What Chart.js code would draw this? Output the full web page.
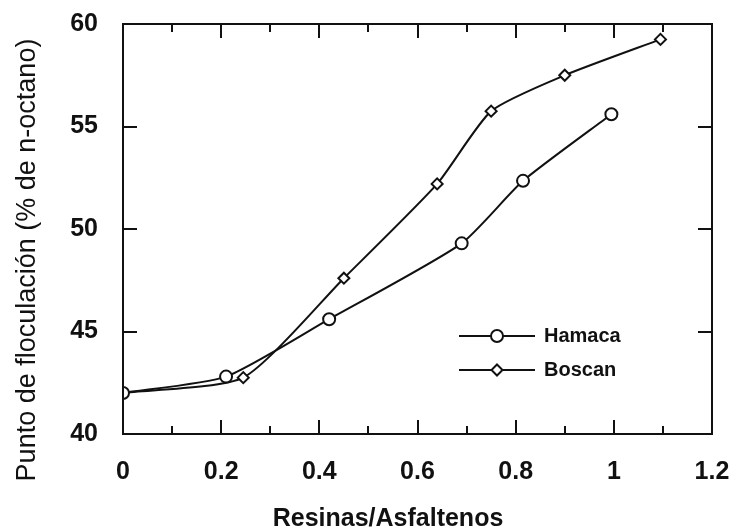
<!DOCTYPE html>
<html>
<head>
<meta charset="utf-8">
<script src="https://cdn.jsdelivr.net/npm/chart.js@4.4.1/dist/chart.umd.min.js"></script>
<style>
  html, body { margin: 0; padding: 0; background: #fff; }
  #wrap { width: 734px; height: 529px; position: relative; }
</style>
</head>
<body>
<div id="wrap"><canvas id="c"></canvas></div>
<script>
// ---- Data ----
const seriesNames = ['Hamaca', 'Boscan'];
const hamacaX = [0, 0.21, 0.42, 0.69, 0.815, 0.995];
const hamacaY = [42.0, 42.8, 45.6, 49.3, 52.35, 55.6];
const boscanX = [0, 0.245, 0.45, 0.64, 0.75, 0.90, 1.095];
const boscanY = [42.0, 42.75, 47.6, 52.2, 55.75, 57.5, 59.25];
const xTicks = [0, 0.2, 0.4, 0.6, 0.8, 1, 1.2];
const yTicks = [40, 45, 50, 55, 60];
const xTitle = 'Resinas/Asfaltenos';
const yTitle = 'Punto de floculación (% de n-octano)';

const INK = '#111111';
const toPts = (xs, ys) => xs.map((x, i) => ({ x: x, y: ys[i] }));

function drawMarker(ctx, style, x, y, r) {
  ctx.save();
  ctx.fillStyle = '#fff';
  ctx.strokeStyle = INK;
  ctx.lineWidth = 2;
  ctx.beginPath();
  if (style === 'circle') {
    ctx.arc(x, y, r, 0, Math.PI * 2);
  } else {
    ctx.moveTo(x, y - r); ctx.lineTo(x + r, y); ctx.lineTo(x, y + r); ctx.lineTo(x - r, y); ctx.closePath();
  }
  ctx.fill(); ctx.stroke();
  ctx.restore();
}

function noPad(s) {
  s.paddingLeft = 0; s.paddingRight = 0; s.paddingTop = 0; s.paddingBottom = 0;
}

const framePlugin = {
  id: 'frameTicks',
  afterDraw(chart) {
    const { ctx, chartArea: a, scales } = chart;
    const xs = scales.x, ys = scales.y;
    ctx.save();
    ctx.strokeStyle = INK;
    ctx.lineWidth = 2;
    ctx.strokeRect(a.left, a.top, a.right - a.left, a.bottom - a.top);
    ctx.beginPath();
    for (let i = 1; i < 12; i++) {
      const v = i / 10;
      const px = Math.round(xs.getPixelForValue(v));
      const len = (i % 2 === 0) ? 14 : 8;
      ctx.moveTo(px, a.bottom); ctx.lineTo(px, a.bottom - len);
      ctx.moveTo(px, a.top); ctx.lineTo(px, a.top + len);
    }
    yTicks.forEach(v => {
      if (v === ys.min || v === ys.max) return;
      const py = Math.round(ys.getPixelForValue(v));
      ctx.moveTo(a.left, py); ctx.lineTo(a.left + 14, py);
      ctx.moveTo(a.right, py); ctx.lineTo(a.right - 14, py);
    });
    ctx.stroke();

    ctx.fillStyle = INK;
    ctx.textAlign = 'center';
    ctx.textBaseline = 'middle';
    ctx.font = 'bold 25px "Liberation Sans", Arial, sans-serif';
    ctx.fillText(xTitle, 388, 519);
    ctx.save();
    ctx.translate(28, 260);
    ctx.rotate(-Math.PI / 2);
    ctx.font = '27px "Liberation Sans", Arial, sans-serif';
    ctx.fillText(yTitle, 0, 0);
    ctx.restore();

    const items = [
      { ds: chart.data.datasets[0], y: 336, style: 'circle', r: 6 },
      { ds: chart.data.datasets[1], y: 370, style: 'diamond', r: 5.5 }
    ];
    items.forEach(it => {
      ctx.beginPath();
      ctx.lineWidth = 1.8;
      ctx.strokeStyle = INK;
      ctx.moveTo(459, it.y); ctx.lineTo(535, it.y);
      ctx.stroke();
      drawMarker(ctx, it.style, 497, it.y, it.r);
      ctx.fillStyle = INK;
      ctx.textAlign = 'left';
      ctx.textBaseline = 'middle';
      ctx.font = 'bold 20px "Liberation Sans", Arial, sans-serif';
      ctx.fillText(it.ds.label, 544, it.y);
    });
    ctx.restore();
  }
};

new Chart(document.getElementById('c'), {
  type: 'line',
  data: {
    datasets: [
      {
        label: seriesNames[0],
        data: toPts(hamacaX, hamacaY),
        borderColor: INK, borderWidth: 2,
        pointStyle: 'circle', pointRadius: 6,
        pointBackgroundColor: '#fff', pointBorderColor: INK, pointBorderWidth: 2,
        tension: 0.2, fill: false
      },
      {
        label: seriesNames[1],
        data: toPts(boscanX, boscanY),
        borderColor: INK, borderWidth: 2,
        pointStyle: 'rectRot', pointRadius: 5.5,
        pointBackgroundColor: '#fff', pointBorderColor: INK, pointBorderWidth: 2,
        tension: 0.2, fill: false
      }
    ]
  },
  options: {
    responsive: true,
    maintainAspectRatio: false,
    animation: false,
    layout: { padding: { top: 24, right: 22, left: 0, bottom: 0 } },
    plugins: { legend: { display: false }, tooltip: { enabled: false } },
    scales: {
      x: {
        type: 'linear', min: 0, max: 1.2,
        grid: { display: false, drawTicks: false },
        border: { display: false },
        afterBuildTicks: s => { s.ticks = xTicks.map(v => ({ value: v })); },
        afterFit: s => { s.height = 95; noPad(s); },
        ticks: {
          padding: 23, color: INK,
          font: { family: '"Liberation Sans", Arial, sans-serif', size: 25, weight: 'bold' },
          maxRotation: 0, autoSkip: false,
          callback: v => String(+v.toFixed(1))
        }
      },
      y: {
        type: 'linear', min: 40, max: 60,
        grid: { display: false, drawTicks: false },
        border: { display: false },
        afterBuildTicks: s => { s.ticks = yTicks.map(v => ({ value: v })); },
        afterFit: s => { s.width = 123; noPad(s); },
        ticks: {
          padding: 25, color: INK,
          font: { family: '"Liberation Sans", Arial, sans-serif', size: 25, weight: 'bold' },
          callback: v => String(v)
        }
      }
    }
  },
  plugins: [framePlugin]
});
</script>
</body>
</html>
